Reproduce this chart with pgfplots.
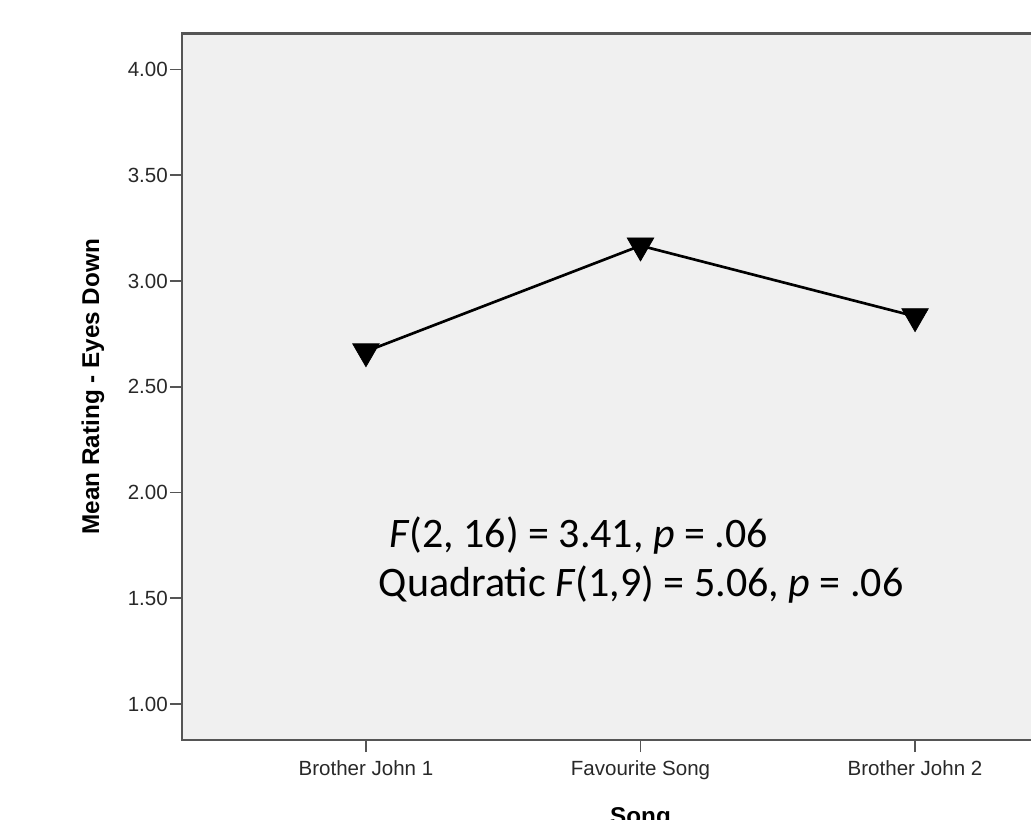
\documentclass[border=0pt]{standalone}
\usepackage{pgfplots}
\pgfplotsset{compat=1.18}
\usepackage{fontspec}
\setmainfont{Liberation Sans}
\newfontfamily\calibri{Carlito}
\definecolor{axgray}{RGB}{85,85,85}
\definecolor{bg}{RGB}{240,240,240}
\definecolor{txt}{RGB}{40,40,40}
\pgfplotstableread{
x y
0 2.667
1 3.167
2 2.833
}\means
\begin{document}
\begin{tikzpicture}
\begin{axis}[
  at={(136.5pt,59.25pt)}, anchor=south west,
  scale only axis, width=687.75pt, height=529.875pt,
  xmin=-0.67, xmax=2.67, ymin=0.83, ymax=4.17,
  axis background/.style={fill=bg},
  axis line style={axgray, line width=1.6pt},
  xtick={0,1,2},
  xticklabels={Brother John 1, Favourite Song, Brother John 2},
  ytick={1,1.5,2,2.5,3,3.5,4},
  tick pos=left, tick align=outside,
  major tick length=9pt,
  tick style={axgray, line width=1.2pt},
  /pgf/number format/assume math mode=true,
  yticklabel style={/pgf/number format/.cd, fixed, fixed zerofill, precision=2, /tikz/.cd,
    font=\fontsize{15.4}{18}\selectfont, text=txt, inner sep=0pt, xshift=-1.5pt},
  xticklabel style={font=\fontsize{15.4}{18}\selectfont, text=txt, inner sep=0pt, yshift=-6pt},
  ylabel={Mean Rating - Eyes Down},
  ylabel style={at={(axis description cs:-0.0971,0.5)}, anchor=center, inner sep=0pt,
    font=\bfseries\fontsize{18.2}{21}\selectfont},
  xlabel={Song},
  xlabel style={at={(axis description cs:0.5,-0.0948)}, anchor=north, inner sep=0pt,
    font=\bfseries\fontsize{18.2}{21}\selectfont},
  clip=false,
]
\addplot[black, line width=2pt, mark=triangle*, mark size=11.5pt,
  mark options={rotate=180, fill=black, line width=0.5pt}] table[x=x,y=y]{\means};
\node[anchor=base west, inner sep=0pt, font=\calibri\fontsize{31.5}{38}\selectfont]
  at (axis cs:0.084,1.739) {\textit{F}(2, 16) = 3.41, \textit{p} = .06};
\node[anchor=base west, inner sep=0pt, font=\calibri\fontsize{31.5}{38}\selectfont]
  at (axis cs:0.046,1.507) {Quadratic \textit{F}(1,9) = 5.06, \textit{p} = .06};
\end{axis}
\pgfresetboundingbox
\useasboundingbox (0,0) rectangle (773.25pt,614.25pt);
\end{tikzpicture}
\end{document}
